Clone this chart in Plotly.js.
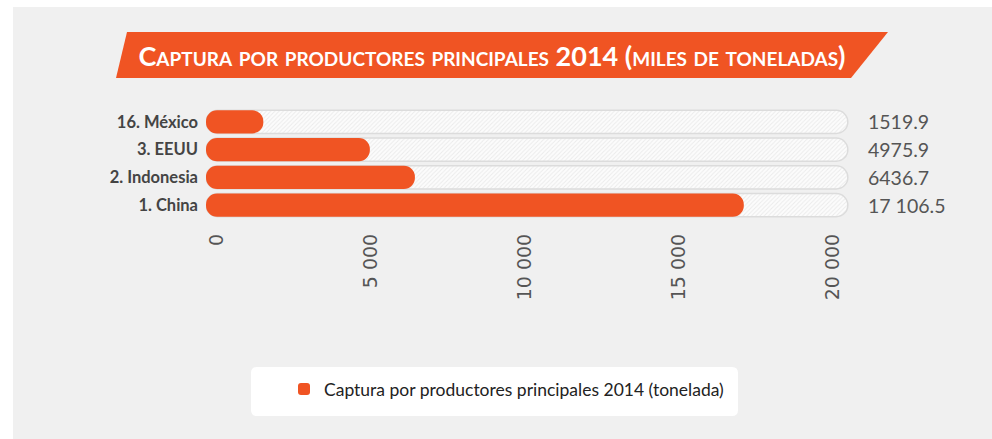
<!DOCTYPE html>
<html>
<head>
<meta charset="utf-8">
<script src="https://cdn.plot.ly/plotly-3.0.1.min.js"></script>
<style>
html,body{margin:0;padding:0;background:#fff;}
#chart{width:992px;height:439px;}
</style>
</head>
<body>
<div id="chart"></div>
<script>
// ---- data ----
const categories = ['1. China', '2. Indonesia', '3. EEUU', '16. México'];
const values = [17106.5, 6436.7, 4975.9, 1519.9];
const xTickVals = [0, 5000, 10000, 15000, 20000];
const xTickText = ['0', '5 000', '10 000', '15 000', '20 000'];
const seriesName = 'Captura por productores principales 2014 (tonelada)';
const chartTitle = 'Captura por productores principales 2014 (miles de toneladas)';
const trackMax = 20480;

// ---- layout helpers ----
const W = 992, H = 439;
const M = {l: 206, r: 142, t: 108, b: 220};
const CAP = 340;              // rounded cap extent (data units)
const pw = W - M.l - M.r, ph = H - M.t - M.b;
const px = x => (x - M.l) / pw;
const py = y => (H - M.b - y) / ph;
const ORANGE = '#f05423';

function fmt(v) {
  let s = v.toFixed(1);
  if (v >= 10000) {
    const [i, d] = s.split('.');
    s = i.replace(/\B(?=(\d{3})+(?!\d))/g, ' ') + '.' + d;
  }
  return s;
}

function roundRect(x0, y0, x1, y1, r) {
  const P = (x, y) => px(x) + ',' + py(y);
  return 'M' + P(x0 + r, y0) + ' L' + P(x1 - r, y0) + ' Q' + P(x1, y0) + ' ' + P(x1, y0 + r) +
    ' L' + P(x1, y1 - r) + ' Q' + P(x1, y1) + ' ' + P(x1 - r, y1) +
    ' L' + P(x0 + r, y1) + ' Q' + P(x0, y1) + ' ' + P(x0, y1 - r) +
    ' L' + P(x0, y0 + r) + ' Q' + P(x0, y0) + ' ' + P(x0 + r, y0) + ' Z';
}
const poly = pts => 'M' + pts.map(p => px(p[0]) + ',' + py(p[1])).join(' L') + ' Z';

const track = {
  type: 'bar', orientation: 'h',
  y: categories, x: categories.map(() => trackMax + CAP), base: -CAP,
  width: 0.83,
  marker: {
    color: '#fbfbfb',
    line: {color: '#dcdcdc', width: 1.5},
    pattern: {shape: '/', fgcolor: '#ebebeb', bgcolor: '#fcfcfc', size: 3, solidity: 0.3}
  },
  showlegend: false, hoverinfo: 'skip'
};
const bars = {
  type: 'bar', orientation: 'h', name: seriesName,
  y: categories, x: values.map(v => v + CAP), base: -CAP,
  customdata: values,
  hovertemplate: '%{y}: %{customdata}<extra></extra>',
  width: 0.83,
  marker: {color: ORANGE, line: {width: 0}}
};

const annotations = categories.map((c, i) => ({
  xref: 'paper', yref: 'y', x: px(866), y: c, xanchor: 'left', yanchor: 'middle',
  text: fmt(values[i]), showarrow: false,
  font: {family: 'Lato', size: 19.5, color: '#555'}
}));

const layout = {
  width: W, height: H,
  margin: M,
  paper_bgcolor: '#ffffff',
  plot_bgcolor: 'rgba(0,0,0,0)',
  barmode: 'overlay',
  barcornerradius: '50%',
  font: {family: 'Lato', color: '#444'},
  title: {
    text: chartTitle,
    xref: 'container', yref: 'container',
    x: 492 / W, y: 1 - 57 / H, xanchor: 'center', yanchor: 'middle',
    font: {family: 'Lato', size: 27, color: '#ffffff', weight: 700, variant: 'small-caps'}
  },
  xaxis: {
    range: [-CAP, 20551],
    tickvals: xTickVals, ticktext: xTickText,
    tickangle: -90,
    showgrid: false, zeroline: false, showline: false, ticks: '',
    ticklabelstandoff: 10,
    tickfont: {family: 'DejaVu Sans', size: 19, color: '#555'},
    fixedrange: true
  },
  yaxis: {
    type: 'category',
    showgrid: false, zeroline: false, showline: false, ticks: '',
    ticklabelstandoff: 7,
    tickfont: {family: 'Lato', size: 16.5, color: '#444', weight: 700},
    fixedrange: true
  },
  showlegend: true,
  legend: {
    xref: 'container', yref: 'container',
    x: 284 / W, y: 1 - 389 / H, xanchor: 'left', yanchor: 'middle',
    orientation: 'h',
    bgcolor: 'rgba(0,0,0,0)',
    font: {family: 'Lato', size: 17.5, color: '#222'}
  },
  shapes: [
    {type: 'rect', xref: 'paper', yref: 'paper', x0: px(13), x1: px(992), y0: py(7), y1: py(439),
     fillcolor: '#f0f0f0', line: {width: 0}, layer: 'below'},
    {type: 'path', xref: 'paper', yref: 'paper', path: poly([[116, 78], [127, 32], [888, 32], [851, 78]]),
     fillcolor: ORANGE, line: {width: 0}, layer: 'below'},
    {type: 'path', xref: 'paper', yref: 'paper', path: roundRect(251, 367, 738, 416, 6),
     fillcolor: '#ffffff', line: {width: 0}, layer: 'below'}
  ],
  annotations: annotations
};

Plotly.newPlot('chart', [track, bars], layout, {displayModeBar: false, staticPlot: true});
</script>
</body>
</html>
